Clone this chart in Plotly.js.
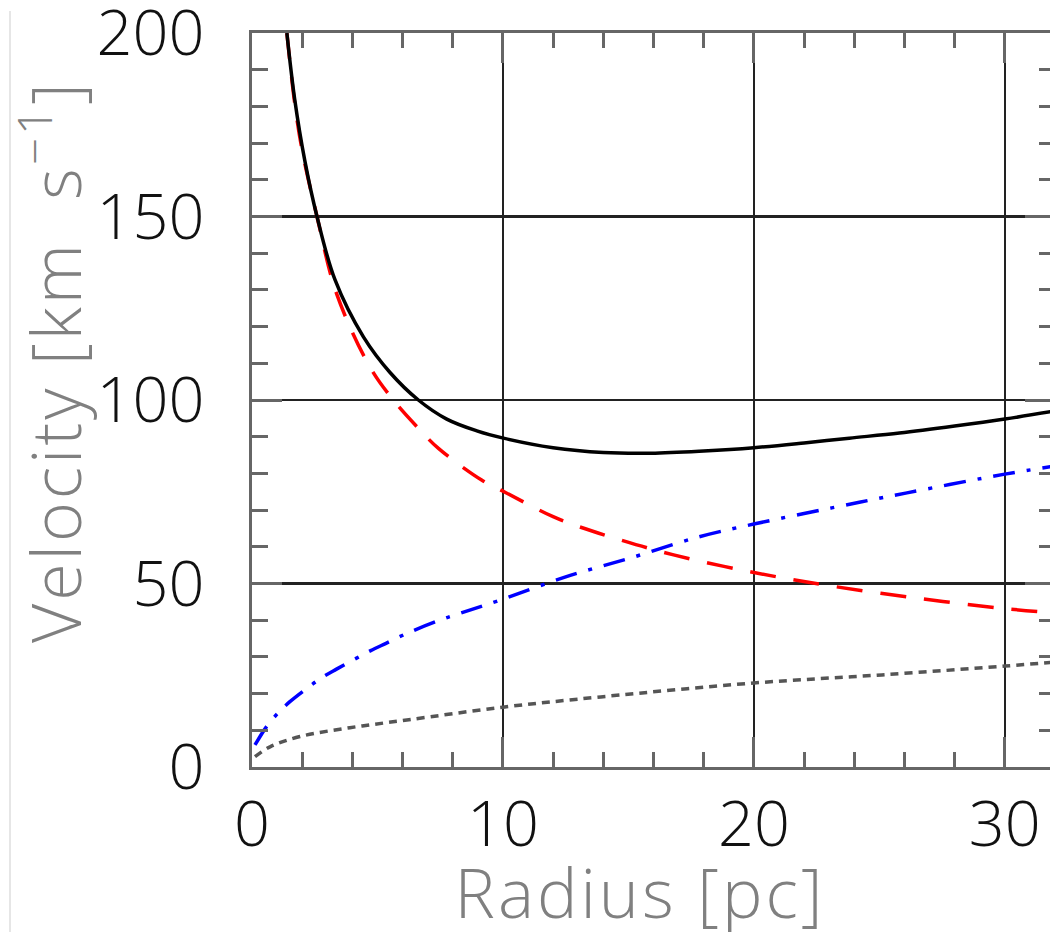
<!DOCTYPE html>
<html>
<head>
<meta charset="utf-8">
<script src="https://cdn.plot.ly/plotly-3.0.1.min.js"></script>
<style>
html,body{margin:0;padding:0;overflow:hidden;background:#fff;}
#chart{width:1056px;height:932px;}
#chart .annotation-text{letter-spacing:3px;}
</style>
</head>
<body>
<div id="chart"></div>
<script>
// Total rotation curve (black solid)
const totalR = [1.39, 1.7, 2.11, 2.59, 3.31, 4.44, 5.5, 6.63, 7.76, 8.96, 10.02, 12.0, 14.0, 15.9, 18, 20, 22, 23.8, 25.8, 28, 30, 32];
const totalV = [200, 182, 165, 150, 132.7, 117.2, 107.5, 100, 94.8, 91.6, 89.6, 87.0, 85.7, 85.5, 86.1, 87, 88.3, 89.6, 91, 92.9, 94.8, 97];
// Keplerian component (red dashed)
const redR = [1.39, 1.7, 2.0, 2.59, 3.37, 4.7, 5.63, 6.7, 7.43, 9.15, 10.1, 12.0, 12.94, 14.67, 16.8, 20, 23.1, 26.5, 29.8, 32];
const redV = [200, 181, 168, 150, 129, 109, 100, 91.8, 86.8, 78.2, 74.8, 68.2, 65.7, 61.9, 57.8, 53, 49.3, 46, 43.3, 42];
// Blue dash-dot component
const blueR = [0.12, 0.58, 1.05, 1.51, 2.24, 2.75, 3.35, 4.15, 4.73, 5.34, 6.17, 7.4, 8.3, 9.9, 12.5, 15.2, 17.8, 20, 23.1, 26.1, 30, 32];
const blueV = [6.0, 11.0, 14.8, 17.8, 21.7, 24.2, 26.6, 29.6, 31.7, 33.7, 36.4, 39.8, 41.9, 45.5, 51.8, 57.2, 62.7, 66.2, 70.6, 74.7, 79.8, 82];
// Gray dotted component
const grayR = [0.12, 0.72, 1.91, 3.9, 6.17, 10, 13.9, 20, 25.1, 30, 32];
const grayV = [2.8, 5.5, 8.3, 10.7, 12.8, 16.3, 19.1, 22.9, 25.1, 27.5, 28.6];

const xTickVals = [0, 10, 20, 30];
const xTickText = ["0", "10", "20", "30"];
const yTickVals = [0, 50, 100, 150, 200];
const yTickText = ["0", "50", "100", "150", "200"];

const xTitle = "Radius [pc]";
const yTitle = "Velocity [km  s<sup>\u22121</sup>]";

const FONT = "'Open Sans', 'Liberation Sans', sans-serif";

const traces = [
  {x: grayR, y: grayV, mode: 'lines', line: {color: '#555555', width: 3.5, dash: '8px,6px', shape: 'spline'}, hoverinfo: 'skip'},
  {x: blueR, y: blueV, mode: 'lines', line: {color: '#0000ff', width: 3.5, dash: '22px,12px,4px,12px', shape: 'spline'}, hoverinfo: 'skip'},
  {x: redR, y: redV, mode: 'lines', line: {color: '#ff0000', width: 3.5, dash: '26px,18px', shape: 'spline'}, hoverinfo: 'skip'},
  {x: totalR, y: totalV, mode: 'lines', line: {color: '#000000', width: 3.5, shape: 'spline'}, hoverinfo: 'skip'}
];

const axisCommon = {
  showline: true, linecolor: '#666666', linewidth: 3, mirror: 'ticks',
  ticks: 'inside', ticklen: 30, tickwidth: 3, tickcolor: '#666666',
  showgrid: true, gridcolor: '#222222', gridwidth: 2.5, zeroline: false,
  tickfont: {family: FONT, size: 63, color: '#111111', weight: 300},
  ticklabeloverflow: 'allow',
  fixedrange: true
};

const layout = {
  width: 1056, height: 932,
  margin: {l: 252, r: 1, t: 33, b: 165},
  paper_bgcolor: '#ffffff', plot_bgcolor: '#ffffff',
  showlegend: false,
  xaxis: Object.assign({}, axisCommon, {
    range: [0, 32], tickmode: 'array', tickvals: xTickVals, ticktext: xTickText,
    ticklabelstandoff: 0,
    minor: {dtick: 2, tick0: 0, ticks: 'inside', ticklen: 15, tickwidth: 3, tickcolor: '#666666', showgrid: false}
  }),
  yaxis: Object.assign({}, axisCommon, {
    range: [0, 200], tickmode: 'array', tickvals: yTickVals, ticktext: yTickText,
    ticklabelstandoff: 32,
    minor: {dtick: 10, tick0: 0, ticks: 'inside', ticklen: 16, tickwidth: 3, tickcolor: '#666666', showgrid: false}
  }),
  annotations: [
    {text: xTitle, xref: 'paper', yref: 'paper', x: 0.483, y: -0.169, xanchor: 'center', yanchor: 'middle',
     showarrow: false, font: {family: FONT, size: 68, color: '#808080', weight: 300}},
    {text: yTitle, xref: 'paper', yref: 'paper', x: -0.25, y: 0.552, xanchor: 'center', yanchor: 'middle',
     textangle: -90, showarrow: false, font: {family: FONT, size: 68, color: '#808080', weight: 300}}
  ],
  shapes: [
    {type: 'line', xref: 'paper', yref: 'paper', x0: -0.3014, x1: -0.3014, y0: 1.03, y1: -0.23,
     line: {color: '#e6e6e6', width: 2}}
  ]
};

Plotly.newPlot('chart', traces, layout, {displayModeBar: false, staticPlot: true});
</script>
</body>
</html>
